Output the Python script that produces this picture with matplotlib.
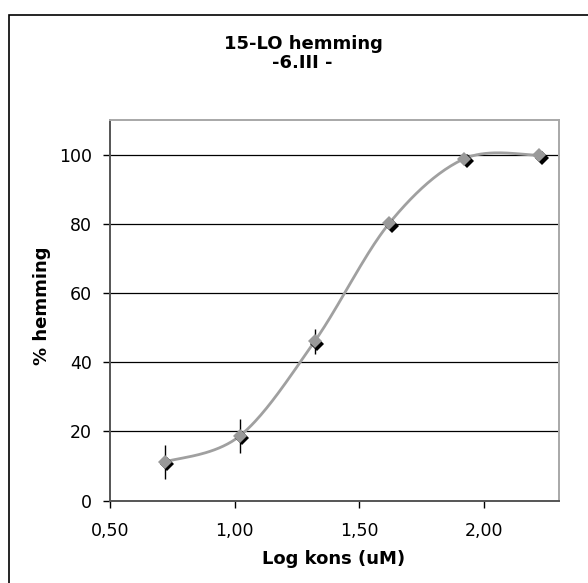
import matplotlib
matplotlib.use("Agg")
import matplotlib.pyplot as plt
import matplotlib.transforms as mtransforms
from matplotlib.patches import Rectangle
import numpy as np

# data
log_kons = [0.72, 1.02, 1.32, 1.62, 1.92, 2.22]
hemming = [11.2, 18.7, 46.0, 80.2, 98.8, 99.8]
hemming_err = [5.0, 5.0, 3.7, 0.0, 0.0, 0.0]

x_ticks = [0.5, 1.0, 1.5, 2.0]
x_tick_labels = ["0,50", "1,00", "1,50", "2,00"]
y_ticks = [0, 20, 40, 60, 80, 100]


def smooth_line(x, y, n=40):
    # excel-style smoothed line: bezier segments with catmull-rom control points
    p = np.column_stack([x, y]).astype(float)
    pts = np.vstack([p[0], p, p[-1]])
    t = np.linspace(0, 1, n)[:, None]
    out = []
    for i in range(1, len(pts) - 2):
        p0, p1, p2, p3 = pts[i - 1], pts[i], pts[i + 1], pts[i + 2]
        c1 = p1 + (p2 - p0) / 6.0
        c2 = p2 - (p3 - p1) / 6.0
        seg = ((1 - t) ** 3) * p1 + 3 * ((1 - t) ** 2) * t * c1 + 3 * (1 - t) * t ** 2 * c2 + t ** 3 * p2
        out.append(seg)
    out = np.vstack(out)
    return out[:, 0], out[:, 1]


fig = plt.figure(figsize=(5.88, 5.83), dpi=100)
ax = fig.add_axes([110 / 588, 1 - 500.7 / 583, 449 / 588, 380.7 / 583])

ax.set_xlim(0.5, 2.3)
ax.set_ylim(0, 110)

for yv in y_ticks[1:]:
    ax.axhline(yv, color="black", lw=0.9, zorder=1)

ax.errorbar(log_kons, hemming, yerr=hemming_err, fmt="none", ecolor="black", elinewidth=1.0, capsize=0, zorder=2)

sx, sy = smooth_line(log_kons, hemming)
ax.plot(sx, sy, color="#a0a0a0", lw=2.0, zorder=3)

shadow = mtransforms.offset_copy(ax.transData, fig=fig, x=2.5, y=-2.5, units="dots")
ax.plot(log_kons, hemming, "D", color="black", ms=7.5, mew=0, transform=shadow, zorder=4)
ax.plot(log_kons, hemming, "D", color="#999999", ms=7.5, mew=0, zorder=5)

ax.set_xticks(x_ticks)
ax.set_xticklabels(x_tick_labels)
ax.set_yticks(y_ticks)
ax.tick_params(direction="out", length=5, width=1, colors="black", labelsize=12.5)
ax.tick_params(axis="x", pad=10)
ax.tick_params(axis="y", pad=8)

for side in ["left", "bottom"]:
    ax.spines[side].set_color("#555555")
    ax.spines[side].set_linewidth(1.4)
for side in ["top", "right"]:
    ax.spines[side].set_color("#a8a8a8")
    ax.spines[side].set_linewidth(1.4)

ax.set_xlabel("Log kons (uM)", fontsize=13, fontweight="bold", va="center")
ax.xaxis.set_label_coords((334 - 110) / 449, -(559 - 500.7) / 380.7)
ax.set_ylabel("% hemming", fontsize=13, fontweight="bold", va="center")
ax.yaxis.set_label_coords((42 - 110) / 449, (500.7 - 306) / 380.7)

fig.text(303 / 588, 1 - 44 / 583, "15-LO hemming", ha="center", va="center",
         fontsize=13, fontweight="bold")
fig.text(302 / 588, 1 - 63 / 583, "-6.III -", ha="center", va="center",
         fontsize=13, fontweight="bold")

# outer chart frame (only left and top edges are inside the picture)
fig.patches.append(Rectangle((9 / 588, -0.1), 1.2, 1.1 - 15 / 583, transform=fig.transFigure,
                             fill=False, edgecolor="black", lw=1.2))

fig.savefig("out.png", dpi=100)
